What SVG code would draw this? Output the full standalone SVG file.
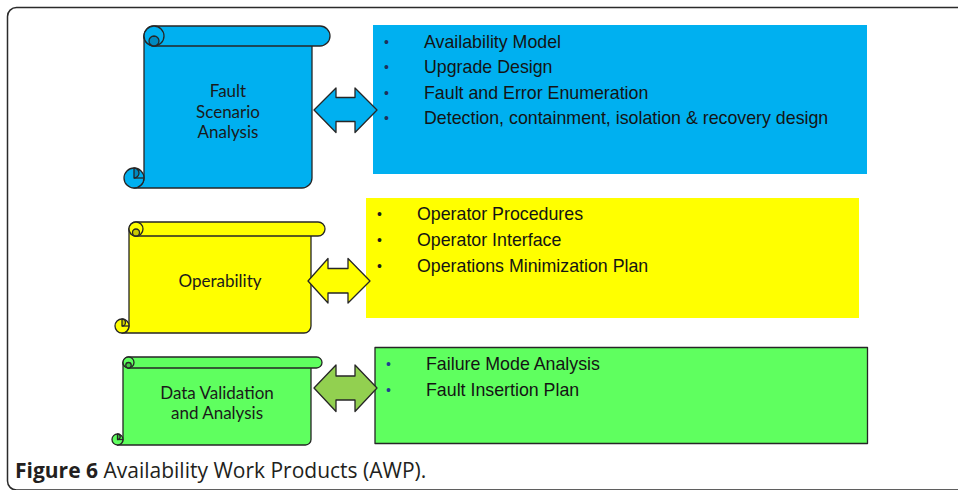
<svg xmlns="http://www.w3.org/2000/svg" width="958" height="490" viewBox="0 0 958 490">
  <style>
    .frame { fill: #ffffff; stroke: #2b2b2b; stroke-width: 1.5; }
    .edge { stroke: #262626; stroke-width: 1.3; stroke-linejoin: round; }
    .blue { fill: #00B0F0; }
    .blue-dk { fill: #0089C0; }
    .yellow { fill: #FFFF00; }
    .yellow-dk { fill: #CACA00; }
    .green { fill: #5FFF5F; }
    .green-dk { fill: #45C845; }
    .olive { fill: #92D050; }
    .label { font-family: Lato, "Liberation Sans", sans-serif; font-size: 17px; fill: #1a1a1a; text-anchor: middle; }
    .item { font-family: "Liberation Sans", Arial, sans-serif; font-size: 17.8px; fill: #141414; }
    .bullet { font-family: "Liberation Sans", Arial, sans-serif; font-size: 14px; }
    .caption { font-family: "Open Sans", "Liberation Sans", sans-serif; font-size: 21px; fill: #231F20; }
  </style>

  <!-- page frame -->
  <rect class="frame" x="7.5" y="7.5" width="1000" height="482.5" rx="9"/>

  <!-- content boxes -->
  <g id="box-fault">
    <rect class="blue" x="373" y="25" width="494" height="149"/>
    <g class="bullet" fill="#1f2f5a">
      <text x="384" y="47">•</text>
      <text x="384" y="72">•</text>
      <text x="384" y="98">•</text>
      <text x="384" y="123">•</text>
    </g>
    <text class="item" x="424" y="48">Availability Model</text>
    <text class="item" x="424" y="73">Upgrade Design</text>
    <text class="item" x="424" y="99">Fault and Error Enumeration</text>
    <text class="item" x="424" y="124">Detection, containment, isolation &amp; recovery design</text>
  </g>

  <g id="box-operability">
    <rect class="yellow" x="366" y="198" width="493" height="120"/>
    <g class="bullet" fill="#1a1a1a">
      <text x="377" y="219">•</text>
      <text x="377" y="245">•</text>
      <text x="377" y="271">•</text>
    </g>
    <text class="item" x="417" y="220">Operator Procedures</text>
    <text class="item" x="417" y="246">Operator Interface</text>
    <text class="item" x="417" y="272">Operations Minimization Plan</text>
  </g>

  <g id="box-validation">
    <rect class="green edge" x="375" y="347.5" width="492.5" height="96"/>
    <g class="bullet" fill="#1f3f8f">
      <text x="386" y="369">•</text>
      <text x="386" y="395">•</text>
    </g>
    <text class="item" x="426" y="370">Failure Mode Analysis</text>
    <text class="item" x="426" y="396">Fault Insertion Plan</text>
  </g>

  <!-- scroll: Fault Scenario Analysis -->
  <g id="scroll-fault">
    <path class="blue edge" d="M144,36 V178 A10,10 0 0 1 134,188 H302 A10,10 0 0 0 312,178 V36 Z"/>
    <rect class="blue edge" x="144" y="26" width="186" height="20" rx="10"/>
    <circle class="blue edge" cx="154" cy="36" r="10"/>
    <path class="blue-dk edge" d="M154,36 A5,5 0 0 0 154,46 A5,5 0 0 0 154,36 Z"/>
    <circle class="blue edge" cx="134" cy="178" r="10"/>
    <path class="blue-dk edge" d="M134,178 A5,5 0 0 0 134,168 Z"/>
    <path class="edge" fill="none" d="M134,178 H144"/>
    <text class="label" x="228" y="97">Fault</text>
    <text class="label" x="228" y="118">Scenario</text>
    <text class="label" x="228" y="138">Analysis</text>
  </g>

  <!-- scroll: Operability -->
  <g id="scroll-operability">
    <path class="yellow edge" d="M129,229 V326 A7,7 0 0 1 122,333 H304 A7,7 0 0 0 311,326 V229 Z"/>
    <rect class="yellow edge" x="129" y="222" width="196" height="14" rx="7"/>
    <circle class="yellow edge" cx="136" cy="229" r="7"/>
    <path class="yellow-dk edge" d="M136,229 A3.5,3.5 0 0 0 136,236 A3.5,3.5 0 0 0 136,229 Z"/>
    <circle class="yellow edge" cx="122" cy="326" r="7"/>
    <path class="yellow-dk edge" d="M122,326 A3.5,3.5 0 0 0 122,319 Z"/>
    <path class="edge" fill="none" d="M122,326 H129"/>
    <text class="label" x="220" y="287">Operability</text>
  </g>

  <!-- scroll: Data Validation and Analysis -->
  <g id="scroll-validation">
    <path class="green edge" d="M123,362.5 V439.5 A5.5,5.5 0 0 1 117.5,445 H305.5 A5.5,5.5 0 0 0 311,439.5 V362.5 Z"/>
    <rect class="green edge" x="123" y="357" width="199" height="11" rx="5.5"/>
    <circle class="green edge" cx="128.5" cy="362.5" r="5.5"/>
    <path class="green-dk edge" d="M128.5,362.5 A2.75,2.75 0 0 0 128.5,368 A2.75,2.75 0 0 0 128.5,362.5 Z"/>
    <circle class="green edge" cx="117.5" cy="439.5" r="5.5"/>
    <path class="green-dk edge" d="M117.5,439.5 A2.75,2.75 0 0 0 117.5,434 Z"/>
    <path class="edge" fill="none" d="M117.5,439.5 H123"/>
    <text class="label" x="217" y="399">Data Validation</text>
    <text class="label" x="217" y="419">and Analysis</text>
  </g>

  <!-- double-headed connectors -->
  <g id="connectors">
    <polygon class="blue edge" points="314,110 336,88 336,97.5 355,97.5 355,88 377,110 355,132.5 355,121.5 336,121.5 336,132.5"/>
    <polygon class="yellow edge" points="308,281 328,258.5 328,268.5 348,268.5 348,258.5 370,281 348,303 348,293 328,293 328,303"/>
    <polygon class="olive edge" points="314,388 336,365 336,376 355,376 355,365 377,388 355,411.5 355,400 336,400 336,411.5"/>
  </g>

  <text class="caption" x="15" y="478"><tspan font-weight="bold">Figure 6</tspan> Availability Work Products (AWP).</text>
</svg>
